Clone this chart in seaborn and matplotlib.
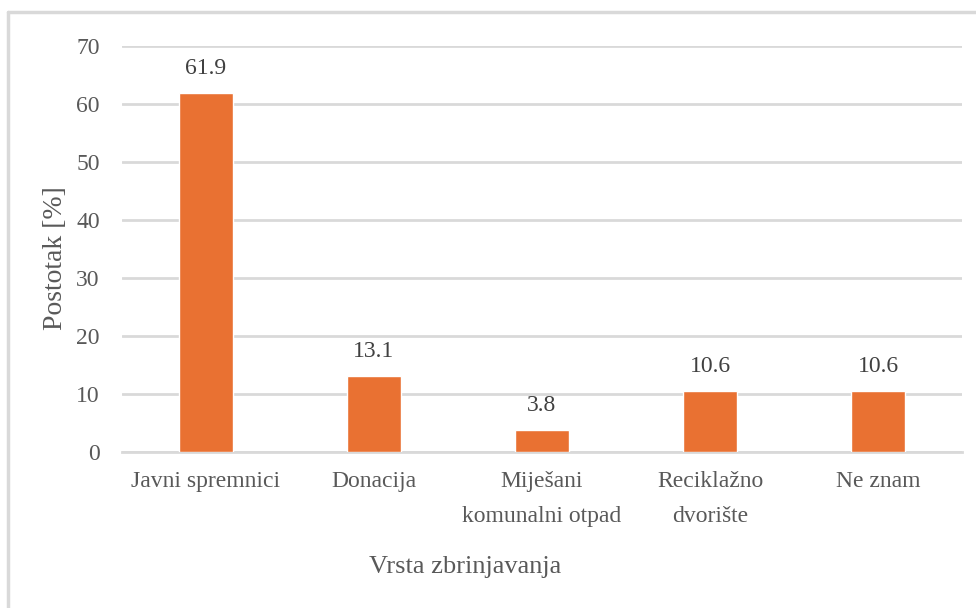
import matplotlib
matplotlib.use("Agg")
import matplotlib.pyplot as plt
import seaborn as sns
import pandas as pd
from matplotlib.lines import Line2D

categories = ["Javni spremnici", "Donacija", "Miješani\nkomunalni otpad",
              "Reciklažno\ndvorište", "Ne znam"]
values = [61.9, 13.1, 3.8, 10.6, 10.6]
value_labels = ["61.9", "13.1", "3.8", "10.6", "10.6"]
y_ticks = [0, 10, 20, 30, 40, 50, 60, 70]
x_title = "Vrsta zbrinjavanja"
y_title = "Postotak [%]"

df = pd.DataFrame({"cat": categories, "val": values})

sns.set_theme(style="white")
plt.rcParams["font.family"] = ["Liberation Serif", "DejaVu Serif"]

W, H = 976, 608
fig = plt.figure(figsize=(W / 100, H / 100), dpi=100)
ax = fig.add_axes([122 / W, 1 - 452 / H, (962 - 122) / W, (452 - 46) / H])

sns.barplot(data=df, x="cat", y="val", color="#E97132", width=0.32,
            saturation=1, ax=ax, zorder=3)

ax.set_ylim(0, 70)
ax.set_xlim(-0.5, 4.5)
ax.set_yticks(y_ticks)
ax.set_yticklabels([str(t) for t in y_ticks])
ax.set_xticks(range(len(categories)))
ax.set_xticklabels(categories, linespacing=1.85)
ax.yaxis.grid(True, color="#D9D9D9", linewidth=2, zorder=0)
ax.set_axisbelow(True)
for s in ["top", "right", "left"]:
    ax.spines[s].set_visible(False)
ax.spines["bottom"].set_color("#D9D9D9")
ax.spines["bottom"].set_linewidth(2)

ax.tick_params(axis="both", length=0, labelsize=17, colors="#595959")
ax.tick_params(axis="y", pad=16)
ax.tick_params(axis="x", pad=14)

for i, (v, t) in enumerate(zip(values, value_labels)):
    ax.annotate(t, (i, v), xytext=(0, 10), textcoords="offset points",
                ha="center", va="bottom", fontsize=17, color="#404040")

ax.set_xlabel("")
ax.set_ylabel("")
fig.text(465 / W, 1 - 567 / H, x_title, ha="center", va="center",
         fontsize=19, color="#595959")
fig.text(55 / W, 1 - 258 / H, y_title, ha="center", va="center",
         fontsize=20, color="#595959", rotation=90)

# chart frame (top and left edges visible)
fig.add_artist(Line2D([8 / W, 1.0], [1 - 12 / H, 1 - 12 / H],
                      transform=fig.transFigure, color="#D9D9D9", linewidth=2.5))
fig.add_artist(Line2D([8 / W, 8 / W], [0, 1 - 12 / H],
                      transform=fig.transFigure, color="#D9D9D9", linewidth=2.5))

fig.savefig("out.png", dpi=100)
